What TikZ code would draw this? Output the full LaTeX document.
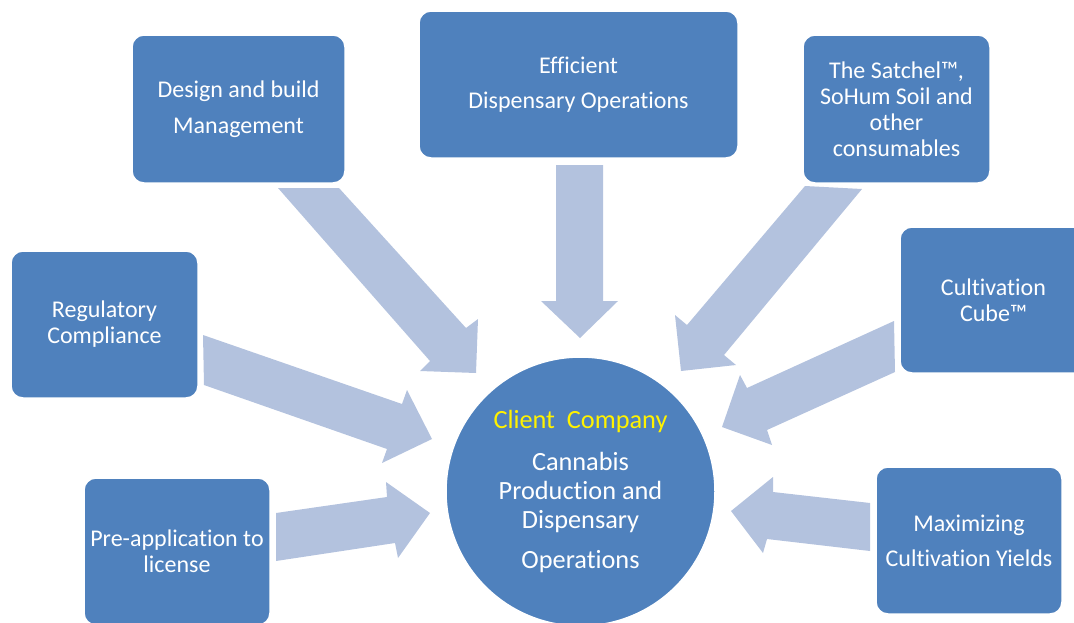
\documentclass[tikz,border=0pt]{standalone}
\usepackage{fontspec}
\setmainfont{Carlito}[Ligatures=CommonOff]
\usetikzlibrary{positioning}
\definecolor{boxblue}{RGB}{79,129,189}
\definecolor{arrowblue}{RGB}{179,194,222}

\begin{document}
\begin{tikzpicture}[x=1pt, y=-1pt,
		box/.style={draw=white, line width=1.5pt, fill=boxblue, rounded corners=12pt, text=white, align=center, inner sep=0pt, font=\fontsize{24}{26}\selectfont},
		hub/.style={circle, draw=white, line width=1.5pt, fill=boxblue, text=white, align=center, inner sep=0pt, minimum size=269pt, font=\fontsize{26.3}{29}\selectfont},
		blockarrow/.style={fill=arrowblue}]
	\clip (0,0) rectangle (1074,622);
	% block arrows pointing to the hub
	\fill[blockarrow] (278,188) -- (339,188) -- (466,328) -- (478,319) -- (476,373) -- (420,371) -- (430,361) -- cycle;
	\fill[blockarrow] (556,165) -- (603,165) -- (603,301) -- (618,301) -- (580,338) -- (541,301) -- (556,301) -- cycle;
	\fill[blockarrow] (805,186) -- (862,189) -- (724,355) -- (736,365) -- (681,371) -- (675,315) -- (687,325) -- cycle;
	\fill[blockarrow] (894,321) -- (895,372) -- (767,430) -- (772,445) -- (722,427) -- (740,375) -- (747,388) -- cycle;
	\fill[blockarrow] (870,503) -- (870,551) -- (767,539) -- (763,553) -- (731,511) -- (773,477) -- (773,492) -- cycle;
	\fill[blockarrow] (203,335) -- (402,404) -- (407,390) -- (432,439) -- (382,463) -- (387,449) -- (204,385) -- cycle;
	\fill[blockarrow] (276,513) -- (387,497) -- (386,482) -- (430,513) -- (398,558) -- (395,543) -- (276,561) -- cycle;
	% boxes
	\node[box, minimum width=213pt, minimum height=148pt] (design) at (238.5,109) {Design and build\\[10pt]Management};
	\node[box, minimum width=319pt, minimum height=147pt] (efficient) at (578.5,84.5) {Efficient\\[9pt]Dispensary Operations};
	\node[box, minimum width=187pt, minimum height=148pt] (satchel) at (896.5,109) {The Satchel™,\\SoHum Soil and\\other\\consumables};
	\node[box, minimum width=187pt, minimum height=147pt] (regulatory) at (104.5,324.5) {Regulatory\\Compliance};
	\node[box, minimum width=187pt, minimum height=146pt] (cube) at (993.5,300) {Cultivation\\Cube™};
	\node[box, minimum width=186pt, minimum height=147pt] (preapp) at (177,551.5) {Pre-application to\\license};
	\node[box, minimum width=186pt, minimum height=147pt] (yields) at (969,540.5) {Maximizing\\[9pt]Cultivation Yields};
	% the hub
	\node[hub] (client) at (580.5,491.5) {\textcolor{yellow}{Client\ \ Company}\\[13pt]Cannabis\\Production and\\Dispensary\\[11pt]Operations};
\end{tikzpicture}
\end{document}
